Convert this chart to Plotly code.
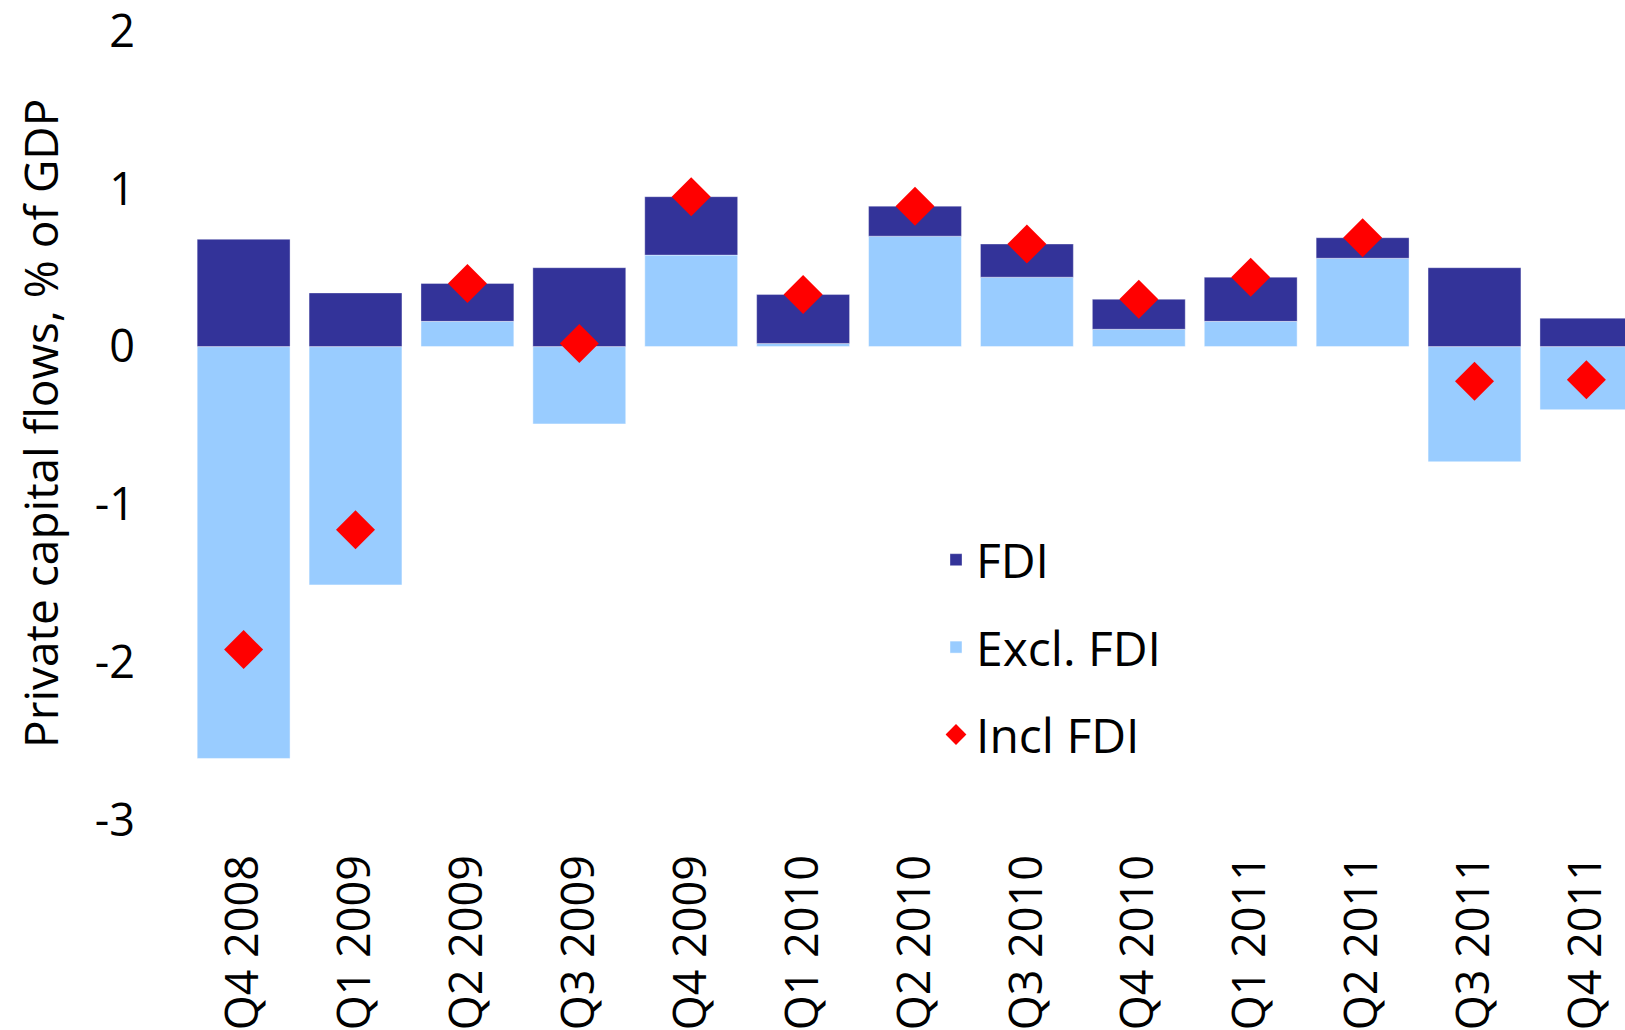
import plotly.graph_objects as go

quarters = ["Q4 2008", "Q1 2009", "Q2 2009", "Q3 2009", "Q4 2009", "Q1 2010", "Q2 2010",
            "Q3 2010", "Q4 2010", "Q1 2011", "Q2 2011", "Q3 2011", "Q4 2011"]
excl_fdi = [-2.61, -1.51, 0.16, -0.49, 0.58, 0.02, 0.70, 0.44, 0.11, 0.16, 0.56, -0.73, -0.40]
fdi = [0.68, 0.34, 0.24, 0.50, 0.37, 0.31, 0.19, 0.21, 0.19, 0.28, 0.13, 0.50, 0.18]
incl_fdi = [-1.92, -1.16, 0.40, 0.02, 0.95, 0.33, 0.89, 0.65, 0.30, 0.44, 0.69, -0.22, -0.21]
y_ticks = [-3, -2, -1, 0, 1, 2]
y_title = "Private capital flows, % of GDP"

FONT = "Open Sans"
FS = 45
LFS = 48

fig = go.Figure()
fig.add_trace(go.Bar(
    x=quarters, y=excl_fdi, name="Excl. FDI", legendrank=2, legendgroup="b",
    marker=dict(color="#99CCFF", line=dict(color="rgba(255,255,255,0.45)", width=1)),
))
fig.add_trace(go.Bar(
    x=quarters, y=fdi, name="FDI", legendrank=1, legendgroup="a",
    marker=dict(color="#333399", line=dict(color="rgba(255,255,255,0.35)", width=1)),
))
fig.add_trace(go.Scatter(
    x=quarters, y=incl_fdi, name="Incl FDI", mode="markers", legendrank=3, legendgroup="c",
    marker=dict(symbol="diamond", size=30, color="#FF0000", line=dict(width=0)),
))

L, T, B = 140, 31, 210
PW = 1625 - L
PH = 1030 - T - B

fig.update_layout(
    width=1625, height=1030,
    margin=dict(l=L, r=0, t=T, b=B, autoexpand=False),
    paper_bgcolor="white", plot_bgcolor="white",
    barmode="relative", bargap=0.17,
    font=dict(family=FONT, size=FS, color="black"),
    showlegend=True,
    legend=dict(
        xref="paper", yref="paper",
        x=(936 - L) / PW, y=1 - (522 - T) / PH, xanchor="left", yanchor="top",
        traceorder="grouped", tracegroupgap=22,
        font=dict(family=FONT, size=LFS, color="black"),
        bgcolor="rgba(0,0,0,0)",
    ),
    xaxis=dict(
        type="category", range=[-0.926, 12.345], autorange=False,
        tickangle=-90, showgrid=False, showline=False, zeroline=False,
        ticks="", ticklabelstandoff=25,
        tickfont=dict(family=FONT, size=FS, color="black"),
    ),
    yaxis=dict(
        range=[-3, 2.0001], autorange=False, tickvals=y_ticks, ticktext=[str(v) for v in y_ticks],
        showgrid=False, showline=False, zeroline=False, ticks="",
        ticklabeloverflow="allow", ticklabelstandoff=4,
        tickfont=dict(family=FONT, size=FS, color="black"),
    ),
    annotations=[dict(
        text=y_title, textangle=-90, showarrow=False,
        xref="paper", yref="paper", x=(40 - L) / PW, y=1 - (424 - T) / PH,
        xanchor="center", yanchor="middle",
        font=dict(family=FONT, size=46, color="black"),
    )],
)

fig.write_html("out.html", config={"displayModeBar": False},
               post_script="document.body.style.margin='0';")
